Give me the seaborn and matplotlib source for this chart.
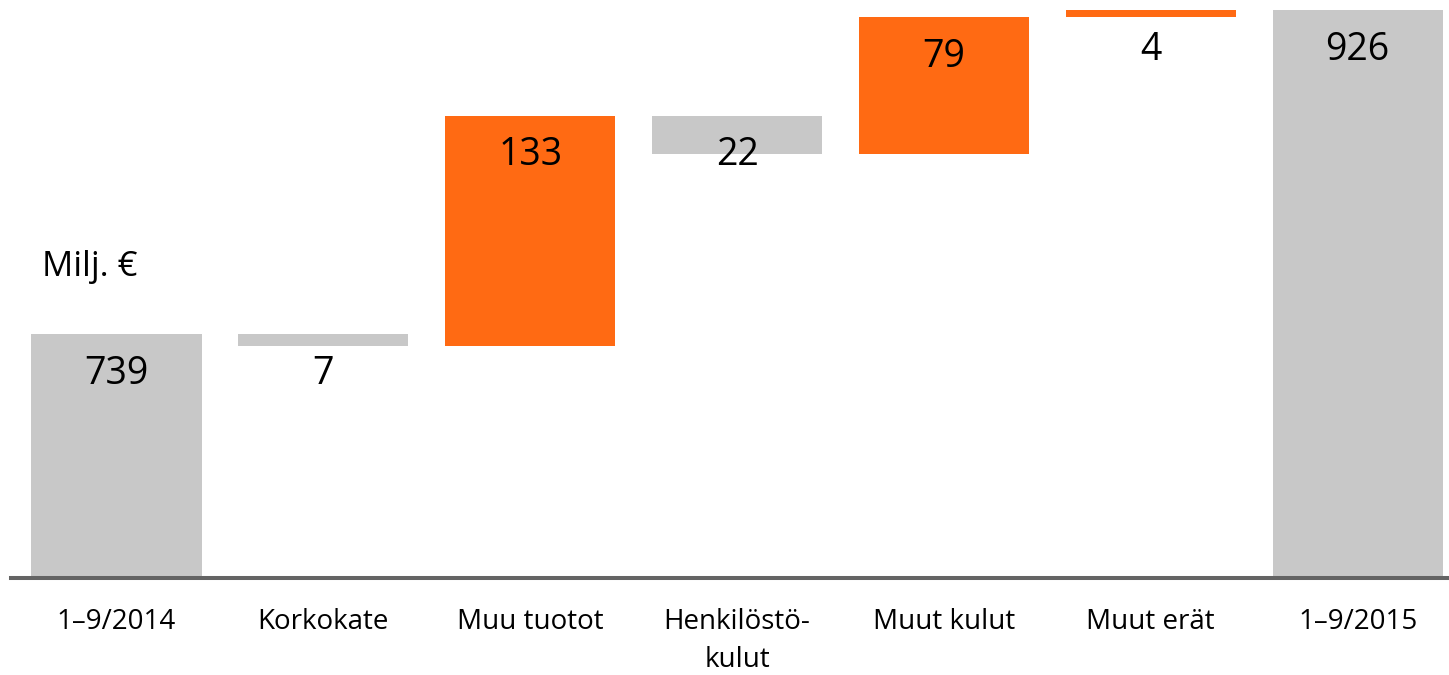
import numpy as np
import pandas as pd
import matplotlib
matplotlib.use("Agg")
import matplotlib.pyplot as plt
import seaborn as sns

categories = ["1–9/2014", "Korkokate", "Muu tuotot", "Henkilöstö-\nkulut",
              "Muut kulut", "Muut erät", "1–9/2015"]
changes = [739, -7, 133, -22, 79, 4, 926]
labels = ["739", "7", "133", "22", "79", "4", "926"]
kinds = ["total", "change", "change", "change", "change", "change", "total"]

GRAY = "#c8c8c8"
ORANGE = "#ff6a13"

# waterfall: work out bottom / height of each floating bar
bottoms, heights, tops = [], [], []
level = 0
for v, k in zip(changes, kinds):
    if k == "total":
        bottoms.append(0)
        heights.append(v)
        level = v
    else:
        new = level + v
        bottoms.append(min(level, new))
        heights.append(abs(v))
        level = new
    tops.append(bottoms[-1] + heights[-1])
colors = [GRAY if (k == "total" or v < 0) else ORANGE for v, k in zip(changes, kinds)]

df = pd.DataFrame({"cat": categories, "height": heights})

sns.set_style("white")
plt.rcParams["font.family"] = ["Open Sans", "DejaVu Sans"]

fig = plt.figure(figsize=(14.49, 6.75), dpi=100)
ax = fig.add_axes([11 / 1449, 97.5 / 675, 1 - 11 / 1449, 1 - 97.5 / 675])

sns.barplot(data=df, x="cat", y="height", bottom=bottoms, width=0.822,
            color=GRAY, ax=ax, errorbar=None, linewidth=0, saturation=1)
for patch, c in zip(ax.patches, colors):
    patch.set_facecolor(c)

for i, (t, lab) in enumerate(zip(tops, labels)):
    ax.annotate(lab, (i, t), xytext=(0, -28.5), textcoords="offset points",
                ha="center", va="center", fontsize=27, color="black")

ax.set_ylim(598.5, 931.8)
ax.set_xlim(-0.51, 6.442)
ax.set_xlabel("")
ax.set_ylabel("")
ax.set_yticks([])
ax.tick_params(axis="x", length=0, pad=22, labelsize=20, labelcolor="black")
for lbl in ax.get_xticklabels():
    lbl.set_linespacing(1.45)
for s in ["top", "left", "right"]:
    ax.spines[s].set_visible(False)
ax.spines["bottom"].set_color("#646464")
ax.spines["bottom"].set_linewidth(2.9)

fig.text(42 / 1449, 1 - 276 / 675, "Milj. €", fontsize=25, va="baseline",
         ha="left", color="black")

fig.savefig("out.png", dpi=100)
